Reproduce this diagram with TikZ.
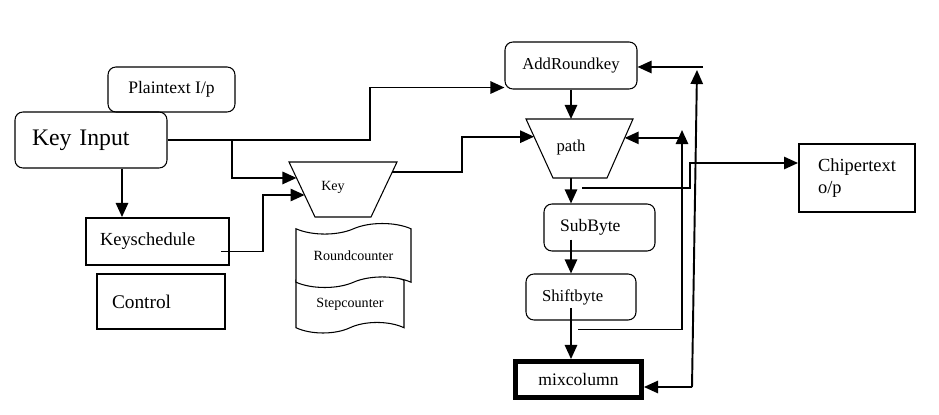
\documentclass[tikz,border=0pt]{standalone}
\usepackage{fontspec}
\setmainfont{Liberation Serif}
\usetikzlibrary{arrows.meta, shapes.symbols, calc}

\begin{document}
\begin{tikzpicture}[x=0.02cm, y=-0.02cm,
  rbox/.style={draw, rounded corners=4.5pt, line width=0.6pt, inner sep=0pt},
  sbox/.style={draw, line width=1.1pt, inner sep=0pt},
  funnel/.style={line width=0.6pt},
  counter/.style={draw, tape, tape bend top=in and out, tape bend bottom=in and out,
    tape bend height=6pt, fill=white, line width=0.6pt, inner sep=0pt},
  link/.style={line width=1.1pt, -{Triangle[length=8pt, width=7pt]}},
]
\useasboundingbox (0,0) rectangle (939,415);

% Define nodes
\node[rbox, minimum width=2.54cm, minimum height=0.9cm, font=\fontsize{10}{12}\selectfont]
  (plain) at (171.5,89.5) {Plaintext I/p};
\node[rbox, minimum width=3.04cm, minimum height=1.12cm, text width=2.36cm, align=left,
  font=\fontsize{13.5}{15}\selectfont] (keyin) at (91,140) {Key Input};
\node[sbox, minimum width=2.86cm, minimum height=0.94cm, text width=2.3cm, align=left,
  font=\fontsize{10.5}{12}\selectfont] (ks) at (157.5,241.5) {Keyschedule};
\node[sbox, minimum width=2.56cm, minimum height=1.1cm, text width=1.96cm, align=left,
  font=\fontsize{11}{13}\selectfont] (ctrl) at (161,301.5) {Control};

% Key funnel
\coordinate (k1) at (289,162);
\coordinate (k2) at (397,162);
\coordinate (k3) at (371,217);
\coordinate (k4) at (315,217);
\draw[funnel] (k1) -- (k2) -- (k3) -- (k4) -- cycle;
\node[font=\fontsize{8}{10}\selectfont] (key) at (333,187) {Key};

\node[counter, minimum width=2.16cm, minimum height=1.16cm, font=\fontsize{8}{10}\selectfont]
  (sc) at (350,304) {Stepcounter};
\node[counter, minimum width=2.3cm, minimum height=1.28cm, font=\fontsize{8}{10}\selectfont]
  (rc) at (353.5,255.5) {Roundcounter};

\node[rbox, minimum width=2.64cm, minimum height=0.94cm, font=\fontsize{9.5}{11}\selectfont]
  (ark) at (571,65.5) {AddRoundkey};

% path funnel
\coordinate (p1) at (526,119);
\coordinate (p2) at (633,119);
\coordinate (p3) at (607,178);
\coordinate (p4) at (553,178);
\draw[funnel] (p1) -- (p2) -- (p3) -- (p4) -- cycle;
\node[font=\fontsize{9.5}{11}\selectfont] (path) at (571,147) {path};

\node[rbox, minimum width=2.22cm, minimum height=0.94cm, text width=1.58cm, align=left,
  font=\fontsize{10}{12}\selectfont] (sb) at (599.5,227.5) {SubByte};
\node[rbox, minimum width=2.2cm, minimum height=0.92cm, text width=1.56cm, align=left,
  font=\fontsize{9.5}{11}\selectfont] (sh) at (581,297) {Shiftbyte};
\node[draw, line width=2.8pt, inner sep=0pt, minimum width=2.52cm, minimum height=0.72cm,
  font=\fontsize{10}{12}\selectfont] (mix) at (578.5,379.5) {mixcolumn};
\node[sbox, minimum width=2.32cm, minimum height=1.36cm, align=left,
  font=\fontsize{10.5}{13}\selectfont] (cipher) at (857,178) {Chipertext\\o/p};

% Free ends
\coordinate (split) at (232,140);
\coordinate (tapA) at (682,130);
\coordinate (pin) at ($(p2)!0.32!(p3)$);
\coordinate (fb) at (692,387);
\coordinate (fbtop) at (697,70);
\coordinate (fbend) at (703,67);

% Key side
\draw[link] (keyin.east) -- (split) -- ++(138,0) |- ($(ark.south west)+(0,-2)$);
\draw[link] (split) |- ($(k1)!0.29!(k4)$);
\draw[link] ($(keyin.south)+(31,0)$) coordinate (kdown) -- (kdown |- ks.north);
\draw[link] ($(ks.east)+(-9,10)$) -- ++(42,0) |- ($(k1)!0.6!(k4)$);
\draw[link] ($(k2)!0.18!(k3)$) -- ++(70,0) |- ($(p1)!0.3!(p4)$);

% Round path
\draw[link] (ark.south) -- (ark.south |- p1);
\draw[link] (ark.south |- p4) -- (sb.north -| ark.south);
\draw[link] ($(sb.center -| ark.south)+(0,12)$) -- (sh.north -| ark.south);
\draw[link] ($(sh.center -| ark.south)+(0,11)$) -- (mix.north -| ark.south);

% Feedback
\draw[link] ($(sh.south)+(-3,9)$) -| (tapA);
\draw[link] (tapA |- pin) -- (pin);
\draw[link] ($(p4)+(29,10)$) -- ++(108,0) |- ($(cipher.west)+(0,-15)$);
\draw[link] (fb) -- (mix.east |- fb);
\draw[link] (fb) -- (fbtop);
\draw[link] (fbend) -- (fbend -| ark.east);

\end{tikzpicture}
\end{document}
